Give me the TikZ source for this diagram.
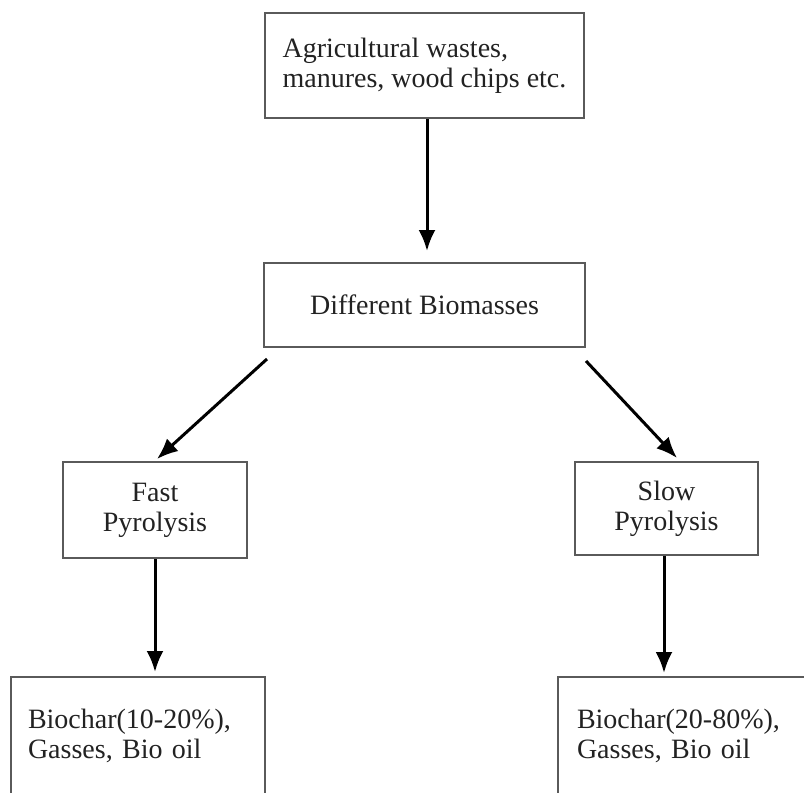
\documentclass[tikz,border=0pt]{standalone}
\usepackage{fontspec}
\setmainfont{Liberation Serif}
\usetikzlibrary{arrows.meta}
\definecolor{boxgray}{HTML}{5A5A5A}
\definecolor{txtgray}{HTML}{222222}
\newcommand\diagfont{\fontsize{14pt}{15pt}\selectfont}
\tikzset{
  box/.style={draw=boxgray, line width=1pt, inner sep=0pt, align=center, font=\diagfont, text=txtgray},
  outbox/.style={draw=boxgray, line width=1pt, inner ysep=0pt, align=left, font=\diagfont, text=txtgray},
  arr/.style={line width=1.5pt, draw=black, -{Latex[length=10.5pt,width=8.5pt]}}
}
\begin{document}
\begin{tikzpicture}[x=0.5pt,y=-0.5pt]
\useasboundingbox (0,0) rectangle (804,793);
\clip (0,0) rectangle (804,793);
\fill[white] (0,0) rectangle (804,793);
\node[box, align=left, minimum width=159.5pt, minimum height=52.5pt] (src) at (424.5,65.5) {Agricultural wastes,\\manures, wood chips etc.};
\node[box, minimum width=160.5pt, minimum height=42pt] (bio) at (424.5,305) {Different Biomasses};
\node[box, minimum width=92pt, minimum height=48pt] (fast) at (155,510) {Fast\\Pyrolysis};
\node[box, minimum width=91.5pt, minimum height=46.5pt] (slow) at (666.5,508.5) {Slow\\Pyrolysis};
\node[outbox, inner xsep=8.5pt, text width=110pt, minimum height=59pt] (fastout) at (138,736) {Biochar(10-20\%),\\Gasses, Bio oil};
\node[outbox, inner xsep=9.5pt, text width=112pt, minimum height=59pt] (slowout) at (689,736) {Biochar(20-80\%),\\Gasses, Bio oil};
\draw[arr] ([xshift=1.25pt]src.south) -- ([shift={(2.5,-11)}]bio.north);
\draw[arr] ([shift={(4,11)}]bio.south west) -- ([shift={(2,-2)}]fast.north);
\draw[arr] ([shift={(0,13)}]bio.south east) -- ([shift={(10.5,-3)}]slow.north);
\draw[arr] (fast.south) -- ([shift={(17,-4)}]fastout.north);
\draw[arr] ([shift={(-2.5,0)}]slow.south) -- ([shift={(-25,-3)}]slowout.north);
\end{tikzpicture}
\end{document}
